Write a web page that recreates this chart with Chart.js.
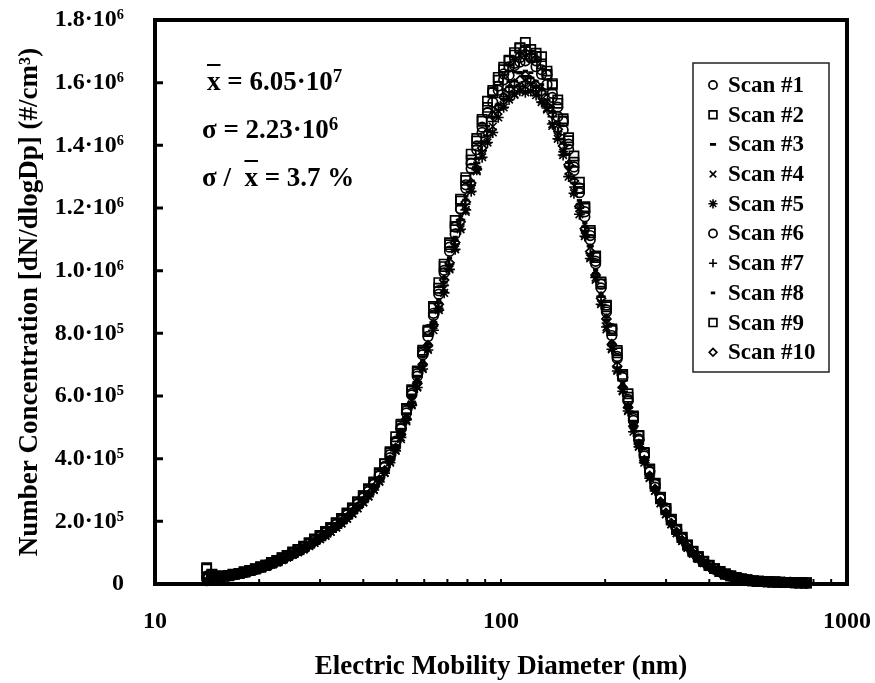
<!DOCTYPE html>
<html>
<head>
<meta charset="utf-8">
<script src="https://cdn.jsdelivr.net/npm/chart.js@4.4.0/dist/chart.umd.min.js"></script>
<style>
  body { margin: 0; background: #fff; }
  #wrap { position: relative; width: 875px; height: 683px; }
  #stats {
    position: absolute; left: 202px; top: 57px;
    font: bold 27px 'Liberation Serif', 'Times New Roman', serif;
    line-height: 48px; color: #000; white-space: pre;
  }
  #stats .bar { text-decoration: overline; text-decoration-thickness: 2px; }
  #stats sup { font-size: 19px; line-height: 0; vertical-align: 8px; }
</style>
</head>
<body>
<div id="wrap">
  <canvas id="sizeDist" width="875" height="683"></canvas>
  <div id="stats"><div style="padding-left:5px"><span class="bar">x</span> = 6.05·10<sup>7</sup></div><div>σ = 2.23·10<sup>6</sup></div><div>σ /  <span class="bar">x</span> = 3.7 %</div></div>
</div>
<script>
// Size distributions of 10 repeated SMPS scans

// electric mobility diameter (nm)
const diameters = [14.1, 14.6, 15.1, 15.7, 16.3, 16.8, 17.5, 18.1, 18.8, 19.5,
    20.2, 20.9, 21.7, 22.5, 23.3, 24.1, 25.0, 25.9, 26.9, 27.9,
    28.9, 30.0, 31.1, 32.2, 33.4, 34.6, 35.9, 37.2, 38.5, 40.0,
    41.4, 42.9, 44.5, 46.1, 47.8, 49.6, 51.4, 53.3, 55.2, 57.3,
    59.4, 61.5, 63.8, 66.1, 68.5, 71.0, 73.7, 76.4, 79.1, 82.0,
    85.1, 88.2, 91.4, 94.7, 98.2, 101.8, 105.5, 109.4, 113.4, 117.6,
    121.9, 126.3, 131.0, 135.8, 140.7, 145.9, 151.2, 156.8, 162.5, 168.5,
    174.7, 181.1, 187.7, 194.6, 201.7, 209.1, 216.7, 224.7, 232.9, 241.4,
    250.3, 259.5, 269.0, 278.8, 289.0, 299.6, 310.6, 322.0, 333.8, 346.0,
    358.7, 371.8, 385.4, 399.5, 414.2, 429.4, 445.1, 461.4, 478.3, 495.8,
    514.0, 532.8, 552.3, 572.5, 593.5, 615.3, 637.8, 661.2, 685.4, 710.5,
    736.5, 763.5];

// dN/dlogDp, in 10^3 #/cm3
const scan1 = [18, 20, 21, 24, 27, 29, 34, 37, 43, 47,
    54, 60, 66, 75, 81, 91, 98, 109, 118, 130,
    140, 153, 164, 179, 191, 207, 222, 240, 257, 279,
    297, 322, 348, 372, 413, 456, 499, 553, 608, 671,
    732, 812, 864, 936, 1001, 1075, 1139, 1196, 1274, 1342,
    1398, 1458, 1503, 1570, 1589, 1628, 1650, 1662, 1680, 1690,
    1679, 1670, 1641, 1625, 1566, 1522, 1476, 1404, 1331, 1264,
    1172, 1112, 1030, 957, 875, 815, 726, 659, 589, 528,
    458, 414, 361, 318, 274, 243, 203, 173, 146, 124,
    103, 86, 72, 59, 48, 40, 31, 26, 20, 16,
    13, 11, 9, 8, 7, 6, 6, 5, 5, 4, 4, 3];
const scan2 = [52, 31, 26, 25, 26, 31, 34, 39, 43, 49,
    55, 60, 69, 75, 84, 91, 102, 110, 121, 131,
    144, 155, 168, 180, 196, 209, 227, 243, 263, 282,
    304, 326, 355, 384, 422, 470, 510, 560, 620, 680,
    746, 810, 881, 962, 1021, 1089, 1160, 1228, 1297, 1372,
    1422, 1477, 1541, 1575, 1617, 1649, 1672, 1696, 1710, 1728,
    1706, 1694, 1683, 1637, 1592, 1545, 1485, 1424, 1366, 1282,
    1204, 1128, 1047, 958, 890, 814, 738, 669, 607, 536,
    474, 420, 367, 322, 276, 241, 207, 175, 149, 125,
    105, 87, 73, 60, 49, 40, 32, 26, 21, 16,
    14, 10, 9, 8, 7, 7, 6, 5, 5, 4, 4, 4];
const scan3 = [9, 17, 20, 23, 25, 28, 32, 36, 41, 45,
    51, 57, 64, 71, 78, 86, 95, 104, 113, 124,
    135, 146, 158, 171, 184, 198, 213, 230, 247, 267,
    286, 308, 335, 364, 398, 436, 480, 530, 596, 643,
    704, 766, 831, 897, 963, 1018, 1096, 1162, 1225, 1286,
    1344, 1410, 1446, 1491, 1529, 1548, 1587, 1605, 1631, 1620,
    1615, 1590, 1578, 1546, 1506, 1470, 1406, 1345, 1280, 1212,
    1140, 1079, 991, 917, 842, 769, 690, 631, 566, 506,
    449, 397, 347, 305, 264, 228, 195, 166, 141, 118,
    99, 82, 69, 56, 47, 38, 30, 24, 19, 16,
    13, 10, 9, 8, 7, 6, 5, 5, 5, 4, 4, 3];
const scan4 = [14, 22, 18, 23, 25, 27, 31, 35, 40, 45,
    50, 56, 63, 69, 77, 85, 93, 102, 111, 122,
    132, 143, 155, 167, 181, 194, 209, 225, 242, 261,
    280, 302, 328, 356, 390, 428, 462, 519, 573, 630,
    690, 751, 826, 879, 943, 1009, 1074, 1138, 1188, 1260,
    1317, 1369, 1416, 1460, 1510, 1529, 1554, 1561, 1583, 1587,
    1596, 1568, 1546, 1514, 1462, 1429, 1377, 1318, 1254, 1199,
    1116, 1044, 971, 898, 813, 753, 684, 618, 555, 496,
    440, 395, 340, 298, 258, 223, 191, 162, 138, 116,
    97, 81, 67, 55, 46, 37, 29, 24, 19, 15,
    12, 10, 9, 8, 7, 6, 6, 5, 4, 4, 3, 3];
const scan5 = [11, 19, 22, 22, 25, 28, 31, 35, 39, 45,
    50, 55, 62, 69, 76, 84, 93, 101, 110, 121,
    131, 143, 154, 166, 180, 193, 208, 224, 241, 260,
    279, 300, 326, 354, 387, 425, 468, 524, 570, 627,
    686, 747, 810, 874, 929, 1004, 1068, 1132, 1194, 1253,
    1322, 1362, 1409, 1441, 1489, 1521, 1546, 1564, 1574, 1569,
    1573, 1560, 1538, 1519, 1468, 1421, 1369, 1300, 1247, 1180,
    1110, 1039, 978, 893, 820, 749, 680, 615, 552, 486,
    438, 387, 338, 297, 257, 222, 190, 162, 137, 115,
    96, 80, 67, 55, 45, 37, 29, 24, 19, 15,
    12, 9, 9, 8, 7, 6, 5, 5, 5, 4, 4, 3];
const scan6 = [25, 24, 23, 24, 26, 29, 33, 37, 42, 47,
    53, 59, 66, 73, 81, 89, 98, 107, 117, 128,
    139, 151, 163, 176, 190, 204, 220, 237, 255, 275,
    295, 318, 345, 375, 403, 450, 495, 546, 603, 663,
    738, 790, 857, 925, 993, 1062, 1117, 1198, 1263, 1326,
    1386, 1441, 1505, 1537, 1576, 1609, 1624, 1655, 1666, 1670,
    1681, 1651, 1627, 1594, 1553, 1492, 1449, 1387, 1320, 1249,
    1188, 1099, 1022, 945, 868, 793, 720, 660, 584, 522,
    463, 409, 358, 309, 272, 235, 201, 171, 145, 122,
    102, 85, 71, 58, 48, 39, 31, 25, 20, 16,
    13, 10, 9, 8, 7, 6, 6, 5, 5, 4, 4, 3];
const scan7 = [8, 15, 19, 23, 25, 28, 32, 36, 40, 45,
    51, 57, 63, 70, 78, 85, 94, 103, 112, 123,
    133, 145, 156, 169, 182, 196, 211, 228, 245, 264,
    283, 305, 331, 360, 394, 432, 475, 524, 579, 645,
    697, 758, 823, 879, 953, 1020, 1085, 1163, 1212, 1273,
    1331, 1383, 1431, 1476, 1513, 1556, 1571, 1589, 1588, 1603,
    1598, 1585, 1574, 1530, 1491, 1444, 1380, 1332, 1267, 1199,
    1128, 1055, 981, 918, 833, 761, 691, 625, 561, 501,
    437, 393, 344, 301, 261, 226, 193, 164, 139, 117,
    98, 82, 68, 56, 46, 37, 30, 24, 19, 15,
    12, 10, 9, 8, 7, 6, 6, 5, 5, 4, 4, 3];
const scan8 = [16, 21, 24, 24, 25, 28, 32, 36, 41, 46,
    52, 58, 65, 72, 79, 87, 96, 105, 115, 125,
    136, 148, 160, 172, 186, 200, 216, 232, 250, 270,
    289, 312, 338, 368, 402, 441, 494, 535, 591, 650,
    711, 766, 840, 907, 973, 1041, 1107, 1174, 1238, 1311,
    1358, 1412, 1461, 1506, 1532, 1577, 1603, 1634, 1633, 1637,
    1632, 1605, 1594, 1562, 1522, 1474, 1420, 1371, 1294, 1224,
    1152, 1077, 1002, 926, 851, 768, 706, 638, 572, 512,
    454, 401, 351, 308, 267, 230, 197, 168, 142, 120,
    100, 83, 70, 57, 47, 38, 30, 25, 20, 16,
    13, 10, 9, 8, 7, 6, 6, 5, 5, 4, 4, 3];
const scan9 = [48, 29, 25, 25, 27, 30, 34, 38, 43, 48,
    54, 60, 67, 74, 83, 91, 100, 109, 119, 131,
    142, 154, 166, 180, 194, 208, 224, 242, 260, 281,
    301, 324, 352, 383, 418, 452, 505, 557, 615, 676,
    741, 806, 886, 944, 1013, 1083, 1141, 1222, 1288, 1353,
    1414, 1483, 1521, 1568, 1608, 1641, 1669, 1688, 1712, 1703,
    1687, 1684, 1660, 1626, 1597, 1534, 1478, 1415, 1346, 1262,
    1199, 1121, 1042, 964, 885, 809, 745, 664, 596, 532,
    472, 417, 365, 320, 277, 240, 205, 174, 148, 124,
    104, 87, 72, 59, 49, 40, 32, 26, 20, 16,
    13, 10, 9, 8, 7, 6, 6, 5, 5, 4, 4, 3];
const scan10 = [21, 23, 20, 23, 25, 28, 32, 36, 41, 45,
    51, 57, 64, 70, 78, 86, 95, 103, 113, 124,
    134, 146, 157, 170, 183, 197, 212, 229, 246, 265,
    285, 307, 333, 362, 396, 434, 478, 527, 574, 640,
    701, 762, 827, 893, 970, 1025, 1090, 1156, 1219, 1280,
    1325, 1391, 1439, 1495, 1521, 1553, 1579, 1597, 1608, 1622,
    1607, 1593, 1570, 1526, 1499, 1451, 1398, 1338, 1286, 1205,
    1134, 1061, 986, 912, 846, 765, 695, 628, 564, 504,
    447, 395, 345, 303, 262, 227, 194, 165, 140, 118,
    98, 82, 69, 56, 46, 38, 30, 24, 19, 15,
    13, 10, 9, 8, 7, 6, 6, 5, 5, 4, 3, 3];

const seriesLabels = ['Scan #1', 'Scan #2', 'Scan #3', 'Scan #4', 'Scan #5',
    'Scan #6', 'Scan #7', 'Scan #8', 'Scan #9', 'Scan #10'];
const yTickLabels = ['0', '2.0·10⁵', '4.0·10⁵', '6.0·10⁵', '8.0·10⁵',
    '1.0·10⁶', '1.2·10⁶', '1.4·10⁶', '1.6·10⁶', '1.8·10⁶'];
const xTickValues = [10, 100, 1000];
const xMinorTicks = [20, 30, 40, 50, 60, 70, 80, 90, 100, 200, 300, 400, 500, 600, 700, 800, 900];

// marker look for each scan
const markers = [
    { style: 'circle', r: 4.8, w: 1.7 },
    { style: 'rect', r: 6.5, w: 1.7 },
    { style: 'line', r: 3.6, w: 2.8 },
    { style: 'crossRot', r: 5.4, w: 1.6 },
    { style: 'star', r: 5.4, w: 1.6 },
    { style: 'circle', r: 4.8, w: 1.7 },
    { style: 'cross', r: 4.8, w: 1.6 },
    { style: 'line', r: 2.6, w: 2.8 },
    { style: 'rect', r: 6.5, w: 1.7 },
    { style: 'rectRot', r: 4.5, w: 1.7 }
];

const allScans = [scan1, scan2, scan3, scan4, scan5, scan6, scan7, scan8, scan9, scan10];

const serif = "'Liberation Serif', 'Times New Roman', serif";
Chart.defaults.font.family = serif;
Chart.defaults.font.weight = 'bold';
Chart.defaults.color = '#000';

// frame, inside tick marks and the boxed legend
const framePlugin = {
    id: 'frame',
    beforeDatasetsDraw(chart) {
        const { ctx, chartArea: a, scales: { x, y } } = chart;
        ctx.save();
        ctx.strokeStyle = '#000';
        ctx.lineWidth = 4;
        ctx.strokeRect(a.left, a.top, a.right - a.left, a.bottom - a.top);
        ctx.lineWidth = 3;
        ctx.beginPath();
        y.ticks.forEach(t => {
            const py = y.getPixelForValue(t.value);
            ctx.moveTo(a.left, py);
            ctx.lineTo(a.left + 8, py);
        });
        ctx.stroke();
        ctx.lineWidth = 2;
        ctx.beginPath();
        xMinorTicks.forEach(v => {
            const px = x.getPixelForValue(v);
            ctx.moveTo(px, a.bottom);
            ctx.lineTo(px, a.bottom - 5);
        });
        ctx.stroke();
        ctx.restore();
    },
    afterDraw(chart) {
        const ctx = chart.ctx;
        const box = { left: 693, top: 63, width: 136, height: 309 };
        ctx.save();
        ctx.fillStyle = '#fff';
        ctx.fillRect(box.left, box.top, box.width, box.height);
        ctx.strokeStyle = '#222';
        ctx.lineWidth = 1.5;
        ctx.strokeRect(box.left, box.top, box.width, box.height);
        ctx.font = 'bold 23px ' + serif;
        ctx.textBaseline = 'middle';
        chart.data.datasets.forEach((ds, k) => {
            const cy = box.top + 22 + k * 29.7;
            ctx.strokeStyle = '#000';
            ctx.fillStyle = 'rgba(0,0,0,0)';
            ctx.lineWidth = ds.pointBorderWidth;
            Chart.helpers.drawPoint(ctx, {
                pointStyle: ds.pointStyle,
                radius: ds.pointRadius * 0.85,
                borderWidth: ds.pointBorderWidth,
                rotation: 0
            }, box.left + 20, cy);
            ctx.fillStyle = '#000';
            ctx.fillText(ds.label, box.left + 35, cy + 1);
        });
        ctx.restore();
    }
};

function buildChart() {
    const ctx = document.getElementById('sizeDist');
    if (!ctx) return null;

    const datasets = allScans.map((vals, k) => ({
        label: seriesLabels[k],
        data: diameters.map((d, i) => ({ x: d, y: vals[i] })),
        pointStyle: markers[k].style,
        pointRadius: markers[k].r,
        pointBorderWidth: markers[k].w,
        borderColor: '#000',
        pointBorderColor: '#000',
        pointBackgroundColor: 'rgba(0,0,0,0)',
        showLine: false,
        clip: false
    }));

    return new Chart(ctx, {
        type: 'scatter',
        data: { datasets: datasets },
        options: {
            responsive: false,
            animation: false,
            devicePixelRatio: 1,
            layout: { padding: { left: 0, top: 20, right: 28, bottom: 0 } },
            plugins: {
                legend: { display: false },
                tooltip: { enabled: false }
            },
            scales: {
                x: {
                    type: 'logarithmic',
                    min: 10,
                    max: 1000,
                    grid: { display: false },
                    border: { display: false },
                    afterBuildTicks: (s) => { s.ticks = xTickValues.map(v => ({ value: v })); },
                    afterFit: (s) => { s.height = 99; s.paddingLeft = 0; s.paddingRight = 0; },
                    ticks: {
                        autoSkip: false,
                        maxRotation: 0,
                        padding: 15,
                        font: { size: 24, weight: 'bold' },
                        callback: (v) => String(v)
                    },
                    title: {
                        display: true,
                        text: 'Electric Mobility Diameter (nm)',
                        font: { size: 27, weight: 'bold', lineHeight: 1.2 },
                        padding: { top: 2, bottom: 0 }
                    }
                },
                y: {
                    min: 0,
                    max: 1800,
                    grid: { display: false },
                    border: { display: false },
                    afterFit: (s) => { s.width = 155; s.paddingTop = 0; s.paddingBottom = 0; },
                    ticks: {
                        stepSize: 200,
                        padding: 23,
                        font: { size: 24, weight: 'bold' },
                        callback: (v, i) => yTickLabels[i]
                    },
                    title: {
                        display: true,
                        text: 'Number Concentration [dN/dlogDp] (#/cm³)',
                        font: { size: 27, weight: 'bold', lineHeight: 1.2 },
                        padding: { top: 14, bottom: 0 }
                    }
                }
            }
        },
        plugins: [framePlugin]
    });
}

window.sizeDistChart = buildChart();
</script>
</body>
</html>
